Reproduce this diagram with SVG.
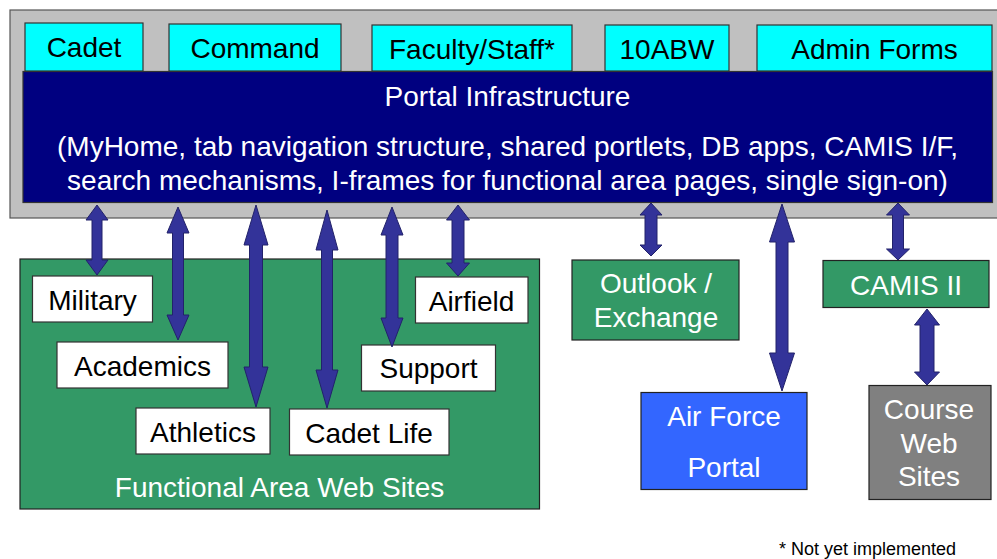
<svg xmlns="http://www.w3.org/2000/svg" width="997" height="559" viewBox="0 0 997 559">
<style>
text{font-family:"Liberation Sans",Arial,sans-serif;text-anchor:middle}
.t{font-size:28px;fill:#000}
.w{font-size:28px;fill:#fff}
.tab{fill:#00ffff;stroke:#333;stroke-width:1.2}
.box{fill:#fff;stroke:#333;stroke-width:1.2}
.grn{fill:#339966;stroke:#222;stroke-width:1.2}
.arr{fill:#333399;stroke:#22226a;stroke-width:1}
</style>
<rect x="0" y="0" width="997" height="559" fill="#fff"/>
<g id="portal">
<rect x="10" y="10" width="995" height="208" fill="#c0c0c0" stroke="#555" stroke-width="1.2"/>
<rect x="23" y="71.5" width="969.5" height="131" fill="#000080" stroke="#333" stroke-width="1.2"/>
<text class="w" x="507.5" y="106">Portal Infrastructure</text>
<text class="w" x="507.5" y="156">(MyHome, tab navigation structure, shared portlets, DB apps, CAMIS I/F,</text>
<text class="w" x="507.5" y="190">search mechanisms, I-frames for functional area pages, single sign-on)</text>
</g>
<g id="tab-cadet"><rect class="tab" x="25" y="23" width="118" height="48"/><text class="t" x="84" y="57">Cadet</text></g>
<g id="tab-command"><rect class="tab" x="169" y="24" width="172" height="47"/><text class="t" x="255" y="58">Command</text></g>
<g id="tab-faculty"><rect class="tab" x="372" y="25" width="200" height="46"/><text class="t" x="472" y="59">Faculty/Staff*</text></g>
<g id="tab-10abw"><rect class="tab" x="605" y="25" width="124" height="46"/><text class="t" x="667" y="59">10ABW</text></g>
<g id="tab-admin"><rect class="tab" x="757" y="25" width="235" height="46"/><text class="t" x="874.5" y="59">Admin Forms</text></g>
<g id="functional">
<rect class="grn" x="20" y="259" width="519.5" height="250"/>
<text class="w" x="279.5" y="497">Functional Area Web Sites</text>
</g>
<g id="military"><rect class="box" x="32.5" y="276" width="120" height="46"/><text class="t" x="92.5" y="310">Military</text></g>
<g id="academics"><rect class="box" x="57" y="342" width="171" height="46"/><text class="t" x="142.5" y="376">Academics</text></g>
<g id="athletics"><rect class="box" x="136" y="408" width="134" height="46"/><text class="t" x="203" y="442">Athletics</text></g>
<g id="cadetlife"><rect class="box" x="289.5" y="409" width="159.5" height="46"/><text class="t" x="369" y="443">Cadet Life</text></g>
<g id="support"><rect class="box" x="361.5" y="345" width="134" height="46"/><text class="t" x="428.5" y="378">Support</text></g>
<g id="airfield"><rect class="box" x="415.5" y="277" width="112.5" height="46"/><text class="t" x="471.5" y="311">Airfield</text></g>
<g id="outlook"><rect class="grn" x="572" y="260" width="167" height="80"/><text class="w" x="656" y="293">Outlook /</text><text class="w" x="656" y="327">Exchange</text></g>
<g id="afportal"><rect x="641" y="392.5" width="166" height="97" fill="#3366ff" stroke="#222" stroke-width="1.2"/><text class="w" x="724" y="426">Air Force</text><text class="w" x="724" y="477">Portal</text></g>
<g id="camis"><rect class="grn" x="823" y="260.5" width="166" height="47"/><text class="w" x="906" y="295">CAMIS II</text></g>
<g id="course"><rect x="869" y="385.5" width="122" height="114" fill="#808080" stroke="#222" stroke-width="1.2"/><text class="w" x="929" y="419">Course</text><text class="w" x="929" y="453">Web</text><text class="w" x="929" y="486">Sites</text></g>
<g id="connectors">
<polygon class="arr" points="97,205 108,220 102,220 102,260 108,260 97,275 86,260 92,260 92,220 86,220"/>
<polygon class="arr" points="178,207 189,233 183.5,233 183.5,315 189,315 178,340 167,315 172.5,315 172.5,233 167,233"/>
<polygon class="arr" points="256,205 268,245 262.5,245 262.5,367 268,367 256,407 244,367 249.5,367 249.5,245 244,245"/>
<polygon class="arr" points="327,210 338,250 332.5,250 332.5,370 338,370 327,408 316,370 321.5,370 321.5,250 316,250"/>
<polygon class="arr" points="392,207 403,235 398,235 398,318 403,318 392,347 381,318 386,318 386,235 381,235"/>
<polygon class="arr" points="458,205 469.5,220 464,220 464,263 469.5,263 458,276 446.5,263 452,263 452,220 446.5,220"/>
<polygon class="arr" points="651,203 662,215 657,215 657,245 662,245 651,256 640,245 645,245 645,215 640,215"/>
<polygon class="arr" points="782,204 794.5,242 788,242 788,353 794.5,353 782,391 769.5,353 776,353 776,242 769.5,242"/>
<polygon class="arr" points="898,203 909.5,215 903.5,215 903.5,249 909.5,249 898,260 886.5,249 892.5,249 892.5,215 886.5,215"/>
<polygon class="arr" points="927,309 939.5,325 934,325 934,372 939.5,372 927,385 914.5,372 920,372 920,325 914.5,325"/>
</g>
<text x="867.5" y="555" style="font-size:18px;fill:#000">* Not yet implemented</text>
</svg>
